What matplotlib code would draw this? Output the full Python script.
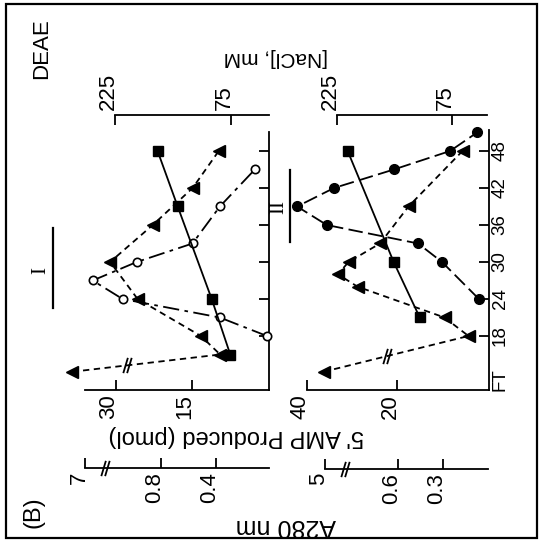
import numpy as np
import matplotlib
matplotlib.use("Agg")
import matplotlib.pyplot as plt
import matplotlib.transforms as mtransforms
from matplotlib import font_manager as fm
from matplotlib.path import Path
from matplotlib.patches import Rectangle

W, H, DPI = 539, 543, 100

# ---------------------------------------------------------------- data
FT = 12.2                      # flow-through fraction position
frac_ticks = [18, 24, 30, 36, 42, 48]
frac_labels = ["18", "24", "30", "36", "42", "48"]

# Peak I (left panel)
I_amp_frac = [18, 21, 24, 27, 30, 33, 39, 45]
I_amp = [0.2, 9.5, 28.7, 34.6, 25.9, 14.9, 9.5, 2.6]          # 5'AMP, pmol
I_a280_frac = [FT, 15, 18, 24, 30, 36, 42, 48]
I_a280 = [10.5, 0.37, 0.51, 0.97, 1.17, 0.86, 0.57, 0.38]
I_nacl_frac = [15, 24, 39, 48]
I_nacl = [76, 100, 144, 170]                                   # mM

# Peak II (right panel)
II_amp_frac = [24, 30, 33, 36, 39, 42, 45, 48, 51]
II_amp = [1.8, 10.0, 15.3, 35.6, 42.2, 34.0, 20.7, 8.2, 2.2]
II_a280_frac = [FT, 18, 21, 26, 28, 30, 33, 39, 48]
II_a280 = [6.0, 0.13, 0.29, 0.87, 1.0, 0.93, 0.72, 0.53, 0.17]
II_nacl_frac = [21, 30, 48]
II_nacl = [117, 151, 211]

# ---------------------------------------------------------------- fonts
names = {f.name for f in fm.fontManager.ttflist}
SANS = "Liberation Sans Narrow" if "Liberation Sans Narrow" in names else "Liberation Sans"
SERIF = "Liberation Serif" if "Liberation Serif" in names else "DejaVu Serif"
plt.rcParams["font.family"] = [SANS, "DejaVu Sans"]

fig = plt.figure(figsize=(W / DPI, H / DPI), dpi=DPI)
fig.patch.set_facecolor("white")

LW = 1.3


def frac_at(ypx):
    """fraction number at a vertical pixel position"""
    return 18 + (336 - ypx) / 6.1667


def px_axes(x0, y0, x1, y1):
    ax = fig.add_axes([x0 / W, 1 - y1 / H, (x1 - x0) / W, (y1 - y0) / H])
    ax.patch.set_visible(False)
    for s in ax.spines.values():
        s.set_visible(False)
        s.set_linewidth(LW)
    ax.tick_params(which="both", bottom=False, top=False, left=False, right=False,
                   labelbottom=False, labeltop=False, labelleft=False, labelright=False,
                   direction="in", length=7, width=LW)
    ax.set_ylim(frac_at(y1), frac_at(y0))
    return ax


def vlabel(ax, value, ypx, text, size, ha, dx=0):
    tr = mtransforms.blended_transform_factory(ax.transData, fig.transFigure)
    tr = tr + mtransforms.ScaledTranslation(dx / DPI, 0, fig.dpi_scale_trans)
    ax.text(value, 1 - ypx / H, text, transform=tr, rotation=90, rotation_mode="anchor",
            ha=ha, va="center", fontsize=size, clip_on=False)


slash = Path([(-0.55, -1), (0.05, 1), (-0.05, -1), (0.55, 1)],
             [Path.MOVETO, Path.LINETO, Path.MOVETO, Path.LINETO])


def break_on_axis(ax, value, spine_pos):
    tr = mtransforms.blended_transform_factory(ax.transData, ax.transAxes)
    ax.plot([value], [spine_pos], marker=slash, ms=11, mew=LW, color="k",
            transform=tr, clip_on=False, ls="none")


def break_on_segment(ax, p0, p1, t):
    d0 = ax.transData.transform(p0)
    d1 = ax.transData.transform(p1)
    pt = ax.transData.inverted().transform(d0 + t * (d1 - d0))
    ax.plot([pt[0]], [pt[1]], marker=slash, ms=11, mew=LW, color="k", ls="none",
            clip_on=False)


def panel(x0, x1, amp, a280, nacl, a280_px, top_px,
          amp_ticks, a280_ticks, a280_lab, amp_end_px, a280_end, nacl_end,
          frac_bottom_px, frac_top_px, labels_right, data, brk_axis, brk_seg, pool):
    y0, y1 = 125, 390
    # 5'AMP / fraction axes
    ax = px_axes(x0, y0, x1, y1)
    z, s = amp
    ax.set_xlim((z - x0) / s, (z - x1) / s)
    ax.spines["bottom"].set_visible(True)
    ax.spines["bottom"].set_bounds((z - x1) / s, (z - amp_end_px) / s)
    ax.spines["right"].set_visible(True)
    ax.spines["right"].set_bounds(frac_at(frac_bottom_px), frac_at(frac_top_px))
    ax.set_xticks(amp_ticks)
    ax.set_yticks(frac_ticks)
    ax.tick_params(axis="x", bottom=True)
    ax.tick_params(axis="y", right=True)
    for v in amp_ticks:
        vlabel(ax, v, 394, str(v), 16, "right", dx=-7)
    if labels_right:
        tr = mtransforms.blended_transform_factory(fig.transFigure, ax.transData)
        for f, lab in zip(frac_ticks, frac_labels):
            ax.text(500 / W, f, lab, transform=tr, rotation=90, rotation_mode="anchor",
                    ha="center", va="center", fontsize=13.5)
        ax.text(500 / W, frac_at(380), "FT", transform=tr, rotation=90,
                rotation_mode="anchor", ha="center", va="center", fontsize=13.5)

    # A280 axes with a broken scale
    za, sa, A_PTS, T_PTS = a280
    fwd = lambda a: np.interp(a, A_PTS, T_PTS)
    inv = lambda t: np.interp(t, T_PTS, A_PTS)
    axa = px_axes(x0, y0, x1, y1)
    axa.set_xscale("function", functions=(fwd, inv))
    axa.set_xlim(inv((za - x0) / sa), inv((za - x1) / sa))
    spos = -(a280_px - y1) / (y1 - y0)
    axa.spines["bottom"].set_visible(True)
    axa.spines["bottom"].set_position(("axes", spos))
    axa.spines["bottom"].set_bounds(a280_end, a280_ticks[-1])
    axa.set_xticks(a280_ticks)
    axa.xaxis.set_minor_locator(matplotlib.ticker.NullLocator())
    axa.tick_params(axis="x", bottom=True)
    for v, lab in zip(a280_ticks, a280_lab):
        vlabel(axa, v, a280_px + 4, lab, 16, "right", dx=-6)
    break_on_axis(axa, brk_axis, spos)

    # NaCl axes
    zn, sn = nacl
    axn = px_axes(x0, y0, x1, y1)
    axn.set_xlim((zn - x0) / sn, (zn - x1) / sn)
    axn.spines["top"].set_visible(True)
    axn.spines["top"].set_position(("axes", 1 + (y0 - top_px) / (y1 - y0)))
    axn.spines["top"].set_bounds(nacl_end, 225)
    axn.set_xticks([75, 225])
    axn.tick_params(axis="x", top=True)
    for v in [75, 225]:
        vlabel(axn, v, top_px - 5, str(v), 16, "left", dx=-7)

    (af, av), (tf, tv), (nf, nv), open_amp = data
    if open_amp:
        ax.plot(av, af, ls=(0, (9, 3, 2, 3)), lw=LW, color="k", marker="o", ms=6,
                mfc="white", mec="k", mew=1.2, clip_on=False, zorder=3)
    else:
        ax.plot(av, af, ls=(0, (8, 3)), lw=LW, color="k", marker="o", ms=7,
                mfc="k", mec="k", clip_on=False, zorder=3)
    axa.plot(tv, tf, ls=(0, (3.5, 2.5)), lw=LW, color="k", marker="<", ms=8.5,
             mfc="k", mec="k", clip_on=False, zorder=3)
    axn.plot(nv, nf, ls="-", lw=LW, color="k", marker="s", ms=6.5,
             mfc="k", mec="k", clip_on=False, zorder=3)
    break_on_segment(axa, (tv[0], tf[0]), (tv[1], tf[1]), brk_seg)

    # pooled fractions
    (bar_px, f_lo, f_hi), (lab_px, lab_f, lab_txt) = pool
    ax.plot([(z - bar_px) / s] * 2, [f_lo, f_hi], color="k", lw=1.6, clip_on=False)
    ax.text((z - lab_px) / s, lab_f, lab_txt, rotation=90, ha="center", va="center",
            fontsize=15, family=SERIF, clip_on=False)


# left panel: peak I
panel(60, 269,
      amp=(268, 5.067),
      a280=(271, 137.5, [-10, 1.2, 7, 100], [-10, 1.2, 1.353, 1.353 + 93 * 0.0264]),
      nacl=(289, 0.773),
      a280_px=468, top_px=115,
      amp_ticks=[15, 30], a280_ticks=[0.4, 0.8, 7], a280_lab=["0.4", "0.8", "7"],
      amp_end_px=85, a280_end=0.015, nacl_end=26,
      frac_bottom_px=390, frac_top_px=132, labels_right=False,
      data=((I_amp_frac, I_amp), (I_a280_frac, I_a280), (I_nacl_frac, I_nacl), True),
      brk_axis=1.6, brk_seg=0.37,
      pool=((53, frac_at(308), frac_at(228)), (41, frac_at(270), "I")))

# right panel: peak II
panel(300, 489,
      amp=(487, 4.5),
      a280=(488, 150, [-10, 1.05, 5, 100], [-10, 1.05, 1.087, 1.087 + 95 * 0.0094]),
      nacl=(509.5, 0.767),
      a280_px=469, top_px=115,
      amp_ticks=[20, 40], a280_ticks=[0.3, 0.6, 5], a280_lab=["0.3", "0.6", "5"],
      amp_end_px=307, a280_end=0.0, nacl_end=29.3,
      frac_bottom_px=390, frac_top_px=130, labels_right=True,
      data=((II_amp_frac, II_amp), (II_a280_frac, II_a280), (II_nacl_frac, II_nacl), False),
      brk_axis=0.953, brk_seg=0.44,
      pool=((290, frac_at(242), frac_at(170)), (279, frac_at(207), "II")))

# axis titles and panel annotations
fig.text(236 / W, 1 - 436 / H, "5' AMP Produced (pmol)", rotation=180,
         ha="center", va="center", fontsize=17)
fig.text(286 / W, 1 - 526 / H, "A280 nm", rotation=180, ha="center", va="center",
         fontsize=18)
fig.text(276 / W, 1 - 57 / H, "[NaCl], mM", rotation=180, ha="center", va="center",
         fontsize=15)
fig.text(42 / W, 1 - 49 / H, "DEAE", rotation=90, ha="center", va="center", fontsize=16)
fig.text(34 / W, 1 - 512 / H, "(B)", rotation=90, ha="center", va="center", fontsize=17)

fig.add_artist(Rectangle((6 / W, 1 - 538 / H), 531 / W, 534 / H, transform=fig.transFigure,
                         fill=False, lw=1.6, ec="k"))

fig.savefig("out.png", dpi=DPI, facecolor="white")
